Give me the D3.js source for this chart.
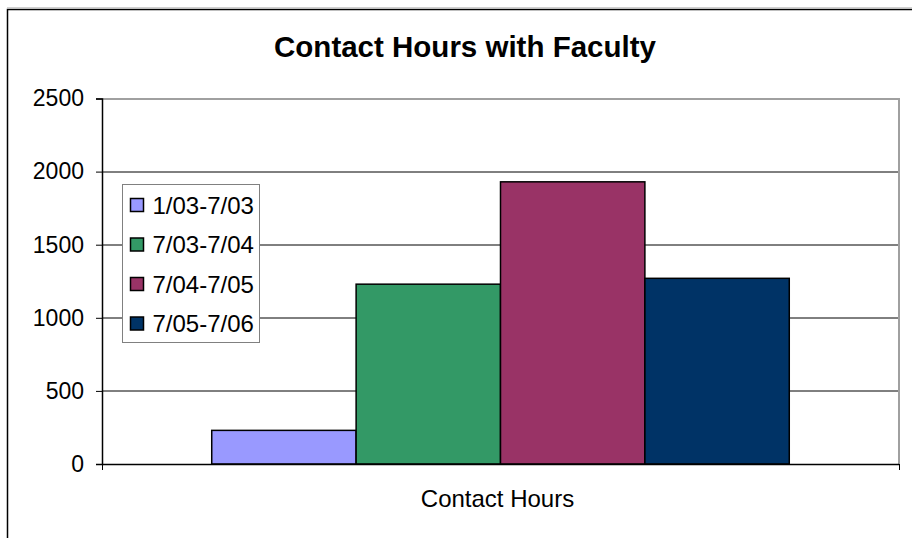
<!DOCTYPE html>
<html>
<head>
<meta charset="utf-8">
<script src="https://cdn.jsdelivr.net/npm/d3@7"></script>
<style>
  body { margin: 0; background: #fff; }
  svg { display: block; font-family: "Liberation Sans", Arial, sans-serif; }
</style>
</head>
<body>
<div id="chart"></div>
<script>
// data
const categories = ['Contact Hours'];
const seriesNames = ['1/03-7/03', '7/03-7/04', '7/04-7/05', '7/05-7/06'];
const seriesValues = [230, 1230, 1930, 1270];
const seriesColors = ['#9999ff', '#339966', '#993366', '#003366'];
const yTicks = [0, 500, 1000, 1500, 2000, 2500];

const width = 912, height = 538;
const margin = { top: 98.5, right: 13, bottom: 74, left: 102 };
const innerW = width - margin.left - margin.right;
const innerH = height - margin.top - margin.bottom;

const svg = d3.select('#chart').append('svg')
  .attr('width', width)
  .attr('height', height);

// outer chart frame (runs off the bottom/right of the picture)
svg.append('line').attr('x1', 7).attr('x2', width).attr('y1', 7.5).attr('y2', 7.5)
  .attr('stroke', '#d0d0d0').attr('stroke-width', 1);
svg.append('rect')
  .attr('x', 7.5).attr('y', 9.5)
  .attr('width', width + 10).attr('height', height + 10)
  .attr('fill', 'none').attr('stroke', '#000').attr('stroke-width', 1.5);

svg.append('text')
  .attr('x', 465).attr('y', 57)
  .attr('text-anchor', 'middle')
  .attr('font-size', '29.5px')
  .attr('font-weight', 'bold')
  .text('Contact Hours with Faculty');

const g = svg.append('g').attr('transform', `translate(${margin.left},${margin.top})`);

const y = d3.scaleLinear().domain([0, 2500]).range([innerH, 0]);
const x0 = d3.scaleBand().domain(categories).range([0, innerW]).paddingInner(0).paddingOuter(0.19);
const x1 = d3.scaleBand().domain(seriesNames).range([0, x0.bandwidth()]);

// gridlines
g.append('g')
  .selectAll('line')
  .data(yTicks.filter(t => t > 0 && t < 2500))
  .join('line')
  .attr('x1', 0).attr('x2', innerW)
  .attr('y1', d => Math.round(y(d)) + 0.5).attr('y2', d => Math.round(y(d)) + 0.5)
  .attr('stroke', '#000').attr('stroke-width', 1);

// plot frame top/right (grey)
g.append('path')
  .attr('d', `M0,0.5H${innerW}V${innerH}`)
  .attr('fill', 'none').attr('stroke', '#a0a0a0').attr('stroke-width', 2);

// bars
g.append('g')
  .selectAll('rect')
  .data(seriesNames.map((s, i) => ({ name: s, value: seriesValues[i], color: seriesColors[i] })))
  .join('rect')
  .attr('x', d => x0(categories[0]) + x1(d.name))
  .attr('y', d => y(d.value))
  .attr('width', x1.bandwidth())
  .attr('height', d => innerH - y(d.value))
  .attr('fill', d => d.color)
  .attr('stroke', '#000')
  .attr('stroke-width', 1.5);

// y axis
const yAxis = g.append('g')
  .call(d3.axisLeft(y).tickValues(yTicks).tickSize(6).tickPadding(12).tickFormat(d3.format('d')));
yAxis.select('.domain').attr('stroke', '#000').attr('stroke-width', 1.5);
yAxis.selectAll('text').attr('font-size', '23px').attr('fill', '#000')
  .attr('font-family', '"Liberation Sans", Arial, sans-serif');

// x axis
const xAxis = g.append('g')
  .attr('transform', `translate(0,${innerH})`)
  .call(d3.axisBottom(d3.scaleLinear().domain([0, 1]).range([0, innerW]))
    .tickValues([0, 1]).tickSize(6).tickFormat(''));
xAxis.select('.domain').attr('stroke', '#000').attr('stroke-width', 1.5).attr('d', `M0,0.5H${innerW}`);

g.append('text')
  .attr('x', x0(categories[0]) + x0.bandwidth() / 2 - 3)
  .attr('y', innerH + 42.5)
  .attr('text-anchor', 'middle')
  .attr('font-size', '24px')
  .text(categories[0]);

// legend
const legend = svg.append('g').attr('transform', 'translate(122.5,184.5)');
legend.append('rect')
  .attr('width', 137).attr('height', 158)
  .attr('fill', '#fff').attr('stroke', '#808080').attr('stroke-width', 1);
const item = legend.selectAll('g.item')
  .data(seriesNames)
  .join('g')
  .attr('class', 'item')
  .attr('transform', (d, i) => `translate(0,${20.5 + i * 39.5})`);
item.append('rect')
  .attr('x', 8).attr('y', -6.5)
  .attr('width', 13).attr('height', 13)
  .attr('fill', (d, i) => seriesColors[i])
  .attr('stroke', '#000').attr('stroke-width', 1.5);
item.append('text')
  .attr('x', 30).attr('y', 8.5)
  .attr('font-size', '24px')
  .text(d => d);
</script>
</body>
</html>
